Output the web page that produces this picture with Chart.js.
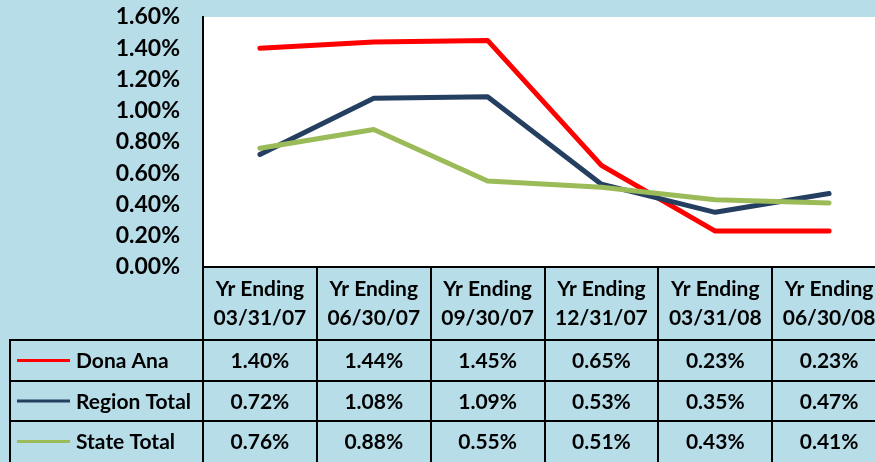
<!DOCTYPE html>
<html>
<head>
<meta charset="utf-8">
<script src="https://cdn.jsdelivr.net/npm/chart.js@4.4.1/dist/chart.umd.min.js"></script>
<style>
  html, body { margin: 0; padding: 0; background: #b7dde8; overflow: hidden; }
  #wrap { position: absolute; left: 0; top: 0; width: 886px; height: 462px; }
</style>
</head>
<body>
<div id="wrap"><canvas id="chart"></canvas></div>
<script>
const categories = [
    ['Yr Ending', '03/31/07'],
    ['Yr Ending', '06/30/07'],
    ['Yr Ending', '09/30/07'],
    ['Yr Ending', '12/31/07'],
    ['Yr Ending', '03/31/08'],
    ['Yr Ending', '06/30/08']
];
const donaAna = [1.40, 1.44, 1.45, 0.65, 0.23, 0.23];
const regionTotal = [0.72, 1.08, 1.09, 0.53, 0.35, 0.47];
const stateTotal = [0.76, 0.88, 0.55, 0.51, 0.43, 0.41];
const seriesNames = ['Dona Ana', 'Region Total', 'State Total'];
const seriesColors = ['#ff0000', '#243f60', '#9bbb59'];
const yMax = 1.6;
const yStep = 0.2;

const FONT = 'Lato, "Open Sans", sans-serif';
const fmt = v => v.toFixed(2) + '%';

// draws the white plot area and the Excel-like data table under the axis
const dataTablePlugin = {
    id: 'dataTable',
    beforeDraw(chart) {
        const { ctx, chartArea } = chart;
        ctx.save();
        ctx.fillStyle = '#ffffff';
        ctx.fillRect(chartArea.left, chartArea.top, chartArea.right - chartArea.left, chartArea.bottom - chartArea.top);
        ctx.restore();
    },
    afterDraw(chart) {
        const { ctx, chartArea } = chart;
        const xs = chart.scales.x;
        const step = xs.getPixelForValue(1) - xs.getPixelForValue(0);
        const first = xs.getPixelForValue(0) - step / 2;
        const rows = [340, 381, 421, 462];
        const legendLeft = 10;
        const all = [donaAna, regionTotal, stateTotal];

        ctx.save();
        ctx.strokeStyle = '#000';
        ctx.lineWidth = 2;
        for (let i = 0; i <= categories.length; i++) {
            const px = Math.round(first + i * step);
            ctx.beginPath();
            ctx.moveTo(px, chartArea.bottom);
            ctx.lineTo(px, chart.height);
            ctx.stroke();
        }
        ctx.beginPath();
        ctx.moveTo(legendLeft, rows[0]);
        ctx.lineTo(legendLeft, chart.height);
        ctx.stroke();
        rows.slice(0, 3).forEach(y => {
            ctx.beginPath();
            ctx.moveTo(legendLeft - 1, y);
            ctx.lineTo(chart.width, y);
            ctx.stroke();
        });

        ctx.font = 'bold 21px ' + FONT;
        ctx.textBaseline = 'middle';
        ctx.fillStyle = '#000';
        all.forEach((vals, r) => {
            const cy = (rows[r] + rows[r + 1]) / 2 + 1;
            // legend key
            ctx.strokeStyle = seriesColors[r];
            ctx.lineWidth = 3;
            ctx.beginPath();
            ctx.moveTo(17, cy - 1);
            ctx.lineTo(70, cy - 1);
            ctx.stroke();
            ctx.textAlign = 'left';
            ctx.fillText(seriesNames[r], 76, cy);
            ctx.textAlign = 'center';
            vals.forEach((v, i) => {
                ctx.fillText(fmt(v), xs.getPixelForValue(i), cy);
            });
        });
        ctx.restore();
    }
};

const lineDataset = (label, data, color, order) => ({
    label: label,
    data: data,
    borderColor: color,
    backgroundColor: color,
    borderWidth: 5,
    pointRadius: 0,
    borderCapStyle: 'round',
    borderJoinStyle: 'round',
    tension: 0,
    order: order
});

new Chart(document.getElementById('chart'), {
    type: 'line',
    data: {
        labels: categories,
        datasets: [
            lineDataset(seriesNames[0], donaAna, seriesColors[0], 2),
            lineDataset(seriesNames[1], regionTotal, seriesColors[1], 1),
            lineDataset(seriesNames[2], stateTotal, seriesColors[2], 0)
        ]
    },
    options: {
        responsive: true,
        maintainAspectRatio: false,
        animation: false,
        layout: { padding: { top: 17, left: 0, right: 0, bottom: 0 } },
        plugins: {
            legend: { display: false },
            tooltip: { enabled: false }
        },
        scales: {
            x: {
                offset: true,
                grid: { display: false, drawTicks: false },
                border: { display: true, color: '#000', width: 2 },
                ticks: {
                    color: '#000',
                    maxRotation: 0,
                    autoSkip: false,
                    padding: 8,
                    font: { family: FONT, size: 21, weight: 'bold', lineHeight: 1.38 }
                },
                afterFit(scale) { scale.height = 195; }
            },
            y: {
                min: 0,
                max: yMax,
                grid: { display: false, drawTicks: false },
                border: { display: true, color: '#000', width: 2 },
                ticks: {
                    stepSize: yStep,
                    autoSkip: false,
                    count: 9,
                    color: '#000',
                    padding: 23,
                    font: { family: FONT, size: 23, weight: 'bold', lineHeight: 1.2 },
                    callback: v => fmt(v)
                },
                afterFit(scale) {
                    scale.width = 203;
                    scale.paddingTop = 0;
                    scale.paddingBottom = 0;
                }
            }
        }
    },
    plugins: [dataTablePlugin]
});
</script>
</body>
</html>
